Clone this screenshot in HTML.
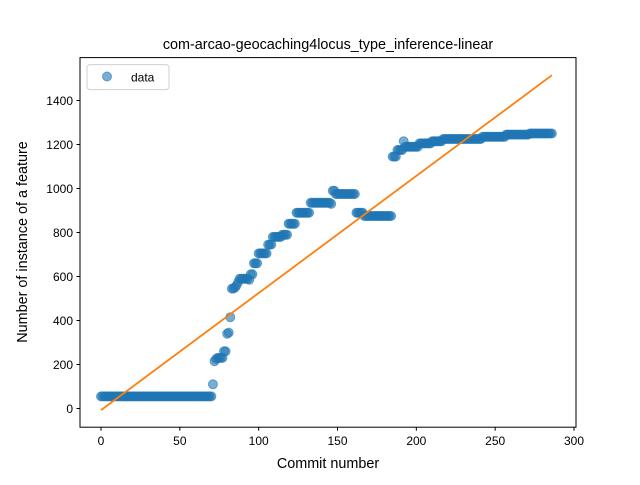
<!DOCTYPE html>
<html><head><meta charset="utf-8"><style>
body{margin:0;background:#fff}
svg text{font-family:"Liberation Sans","DejaVu Sans",sans-serif;fill:#000}
</style></head><body>
<svg id="chart" width="640" height="480" xmlns="http://www.w3.org/2000/svg">
<rect width="640" height="480" fill="#fff"/>
<text x="328" y="49" font-size="14.4" text-anchor="middle">com-arcao-geocaching4locus_type_inference-linear</text>
<g id="plot"></g>
<rect x="80" y="57.6" width="496" height="369.6" fill="none" stroke="#000" stroke-width="1"/>
<g id="ticks"></g>
<text x="328" y="468" font-size="14.4" text-anchor="middle">Commit number</text>
<text transform="translate(27,242) rotate(-90)" font-size="14.4" text-anchor="middle">Number of instance of a feature</text>
<g>
<rect x="87" y="64.6" width="82" height="25" rx="3" fill="#fff" stroke="#ccc" opacity="0.9"/>
<circle cx="107" cy="76.5" r="4.5" fill="#1f77b4" fill-opacity="0.6" stroke="#1f77b4" stroke-opacity="0.6"/>
<text x="131" y="81.5" font-size="12">data</text>
</g>
</svg>
<script>
const runValues=[55,110,215,225,230,260,340,345,415,545,550,560,575,590,585,610,660,705,745,780,790,840,890,935,930,990,975,890,875,1145,1175,1215,1190,1205,1215,1225,1235,1245,1250];
const runLengths=[71,1,1,1,4,2,1,1,1,2,1,1,1,6,1,2,3,6,3,6,4,5,9,13,1,2,13,5,18,3,4,1,9,8,7,25,15,15,15];
const xTicks=[0,50,100,150,200,250,300];
const yTicks=[0,200,400,600,800,1000,1200,1400];

const NS="http://www.w3.org/2000/svg";
const xs=v=>101+v*473/300;
const ys=v=>408.5-v*0.22;
const values=[];
runValues.forEach((v,i)=>{for(let k=0;k<runLengths[i];k++)values.push(v);});
const plot=document.getElementById('plot');
values.forEach((v,i)=>{
  const c=document.createElementNS(NS,'circle');
  c.setAttribute('cx',xs(i));c.setAttribute('cy',ys(v));c.setAttribute('r',4.5);
  c.setAttribute('fill','#1f77b4');c.setAttribute('fill-opacity','0.6');
  c.setAttribute('stroke','#1f77b4');c.setAttribute('stroke-opacity','0.6');
  
  
  plot.appendChild(c);
});
const n=values.length;let sx=0,sy=0,sxx=0,sxy=0;
values.forEach((v,i)=>{sx+=i;sy+=v;sxx+=i*i;sxy+=i*v;});
const b=(n*sxy-sx*sy)/(n*sxx-sx*sx),a=(sy-b*sx)/n;
const ln=document.createElementNS(NS,'line');
ln.setAttribute('x1',xs(0));ln.setAttribute('y1',ys(a));
ln.setAttribute('x2',xs(n-1));ln.setAttribute('y2',ys(a+b*(n-1)));
ln.setAttribute('stroke','#ff7f0e');ln.setAttribute('stroke-width','1.8');


plot.appendChild(ln);
const tg=document.getElementById('ticks');
xTicks.forEach(t=>{
  const l=document.createElementNS(NS,'line');
  l.setAttribute('x1',xs(t));l.setAttribute('x2',xs(t));l.setAttribute('y1',427.2);l.setAttribute('y2',430.7);
  l.setAttribute('stroke','#000');
  
  
  tg.appendChild(l);
  const tx=document.createElementNS(NS,'text');
  tx.setAttribute('x',xs(t));tx.setAttribute('y',445);tx.setAttribute('font-size','12');tx.setAttribute('text-anchor','middle');
  tx.textContent=t;
  
  
  tg.appendChild(tx);
});
yTicks.forEach(t=>{
  const l=document.createElementNS(NS,'line');
  l.setAttribute('x1',76.5);l.setAttribute('x2',80);l.setAttribute('y1',ys(t));l.setAttribute('y2',ys(t));
  l.setAttribute('stroke','#000');
  
  
  tg.appendChild(l);
  const tx=document.createElementNS(NS,'text');
  tx.setAttribute('x',73);tx.setAttribute('y',ys(t)+4.3);tx.setAttribute('font-size','12');tx.setAttribute('text-anchor','end');
  tx.textContent=t;
  
  
  tg.appendChild(tx);
});
</script>
</body></html>
